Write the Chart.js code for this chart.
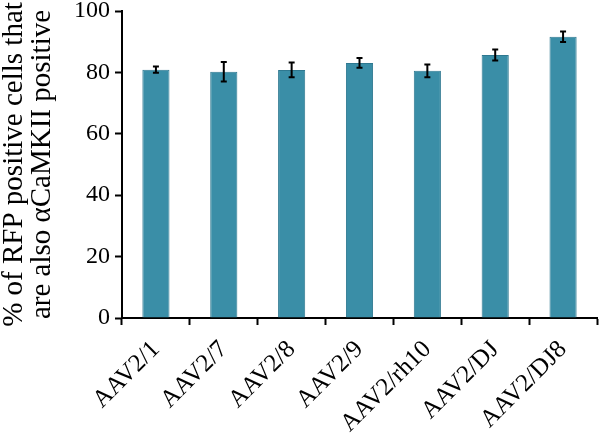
<!DOCTYPE html>
<html>
<head>
<meta charset="utf-8">
<script src="https://cdn.jsdelivr.net/npm/chart.js@4/dist/chart.umd.min.js"></script>
<style>
    body { margin: 0; background: #fff; }
    #wrap { width: 600px; height: 438px; }
</style>
</head>
<body>
<div id="wrap"><canvas id="chart" width="600" height="438"></canvas></div>
<script>
const categories = ['AAV2/1', 'AAV2/7', 'AAV2/8', 'AAV2/9', 'AAV2/rh10', 'AAV2/DJ', 'AAV2/DJ8'];
const percentValues = [80.9, 80.2, 80.8, 83.1, 80.5, 85.7, 91.6];
const percentErrors = [1.0, 3.2, 2.4, 1.6, 2.1, 1.8, 1.7];
const yTicks = [0, 20, 40, 60, 80, 100];

const serif = "'Liberation Serif', 'Times New Roman', serif";

const errorBarPlugin = {
    id: 'errorBars',
    afterDatasetsDraw(chart) {
        const ctx = chart.ctx;
        const yScale = chart.scales.y;
        const meta = chart.getDatasetMeta(0);
        ctx.save();
        ctx.strokeStyle = '#000';
        ctx.lineWidth = 2;
        meta.data.forEach((bar, i) => {
            const x = bar.x;
            const hi = yScale.getPixelForValue(percentValues[i] + percentErrors[i]);
            const lo = yScale.getPixelForValue(percentValues[i] - percentErrors[i]);
            ctx.beginPath();
            ctx.moveTo(x, hi);
            ctx.lineTo(x, lo);
            ctx.moveTo(x - 3, hi);
            ctx.lineTo(x + 3, hi);
            ctx.moveTo(x - 3, lo);
            ctx.lineTo(x + 3, lo);
            ctx.stroke();
        });
        ctx.restore();
    }
};

const ctx = document.getElementById('chart').getContext('2d');
new Chart(ctx, {
    type: 'bar',
    data: {
        labels: categories,
        datasets: [{
            data: percentValues,
            backgroundColor: '#3a8ea7',
            borderColor: '#2e7890',
            borderWidth: 1,
            categoryPercentage: 1,
            barPercentage: 0.4
        }]
    },
    options: {
        responsive: false,
        animation: false,
        layout: { padding: { top: 0, right: 3, left: 0, bottom: 0 } },
        plugins: {
            legend: { display: false },
            tooltip: { enabled: false }
        },
        scales: {
            x: {
                grid: {
                    display: true,
                    drawOnChartArea: false,
                    drawTicks: true,
                    tickLength: 7,
                    tickWidth: 2,
                    color: '#000',
                    offset: true
                },
                border: { display: true, color: '#000', width: 2 },
                ticks: {
                    color: '#000',
                    font: { family: serif, size: 25 },
                    maxRotation: 45,
                    minRotation: 45,
                    padding: 10
                },
                afterFit(scale) { scale.height = 120; }
            },
            y: {
                min: 0,
                max: 100,
                afterBuildTicks(scale) {
                    scale.ticks = yTicks.map(v => ({ value: v }));
                },
                grid: {
                    display: true,
                    drawOnChartArea: false,
                    drawTicks: true,
                    tickLength: 7,
                    tickWidth: 2,
                    color: '#000'
                },
                border: { display: true, color: '#000', width: 2 },
                ticks: {
                    color: '#000',
                    font: { family: serif, size: 24, lineHeight: 0.5 },
                    padding: 5
                },
                title: {
                    display: true,
                    text: ['% of RFP positive cells that', 'are also \u03b1CaMKII positive'],
                    color: '#000',
                    font: { family: serif, size: 29, lineHeight: 0.98 },
                    padding: { top: 0, bottom: 2 }
                },
                afterFit(scale) { scale.width = 122; }
            }
        }
    },
    plugins: [errorBarPlugin]
});
</script>
</body>
</html>
